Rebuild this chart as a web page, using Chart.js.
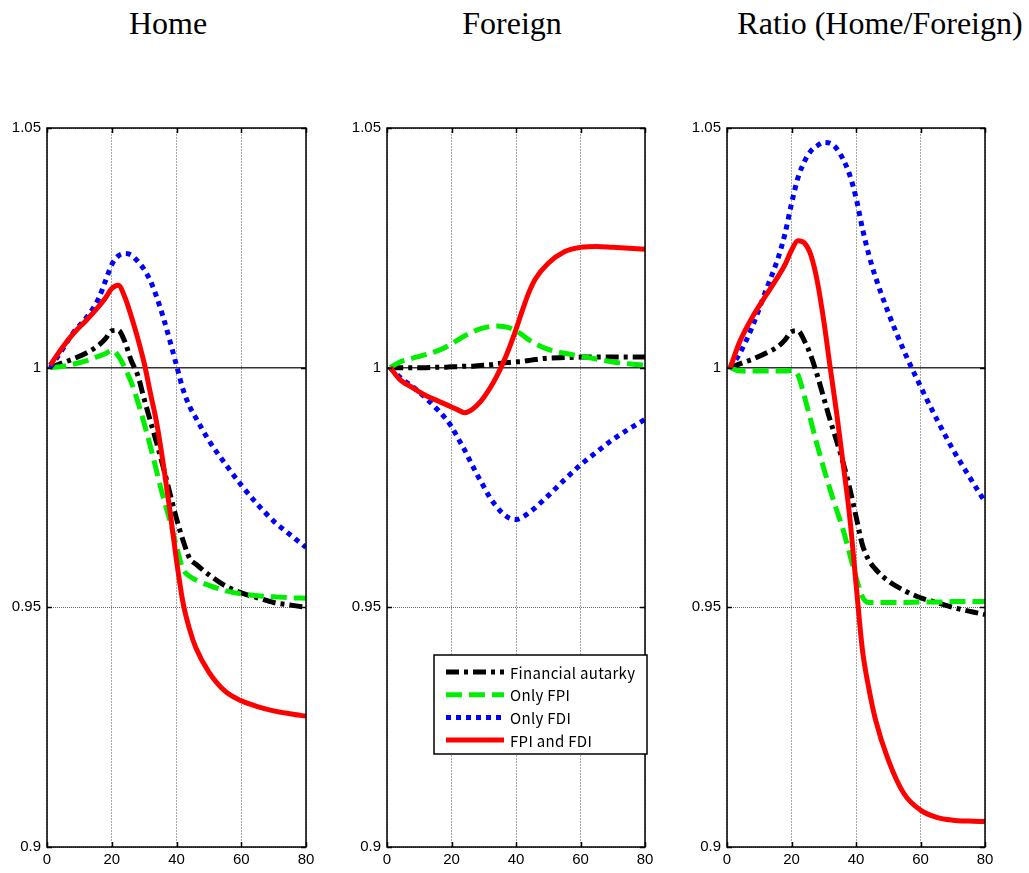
<!DOCTYPE html>
<html>
<head>
<meta charset="utf-8">
<script src="https://cdn.jsdelivr.net/npm/chart.js@4.4.1/dist/chart.umd.min.js"></script>
<style>
  body { margin: 0; background: #fff; width: 1029px; height: 873px; position: relative; overflow: hidden; }
  .title { position: absolute; top: 5px; font-family: "Liberation Serif", "Times New Roman", serif; font-size: 32px; transform: translateX(-50%); white-space: nowrap; color: #000; }
  canvas { position: absolute; }
</style>
</head>
<body>
<div class="title" style="left:168px">Home</div>
<div class="title" style="left:512px">Foreign</div>
<div class="title" style="left:880px">Ratio (Home/Foreign)</div>

<canvas id="home" width="320" height="763" style="left:0;top:110px"></canvas>
<canvas id="foreign" width="330" height="763" style="left:330px;top:110px"></canvas>
<canvas id="ratio" width="340" height="763" style="left:670px;top:110px"></canvas>

<script>
// periods on the x axis (same for every series)
const periods = [1, 4, 8, 12, 16, 18, 20, 22, 24, 26, 28, 30, 32, 34, 36, 38, 40, 42, 44, 46, 50, 55, 60, 65, 70, 75, 80];

const xTicks = [0, 20, 40, 60, 80];
const yTicks = [0.9, 0.95, 1, 1.05];

const seriesNames = ["Financial autarky", "Only FPI", "Only FDI", "FPI and FDI"];

// Home
const homeAutarky = [1.0, 1.0008, 1.0018, 1.003, 1.0047, 1.006, 1.0077, 1.0078, 1.0055, 1.0015, 0.9985, 0.9935, 0.9887, 0.984, 0.979, 0.9737, 0.9685, 0.964, 0.9603, 0.959, 0.9568, 0.9545, 0.953, 0.952, 0.951, 0.9505, 0.95];
const homeFPI     = [1.0, 1.0002, 1.0007, 1.0014, 1.0024, 1.0029, 1.0036, 1.0025, 1.0, 0.997, 0.993, 0.9884, 0.9834, 0.978, 0.9727, 0.968, 0.9627, 0.958, 0.9565, 0.9557, 0.9546, 0.9535, 0.9528, 0.9524, 0.9522, 0.952, 0.9519];
const homeFDI     = [1.0, 1.003, 1.0072, 1.0103, 1.0145, 1.018, 1.0215, 1.0233, 1.0238, 1.0235, 1.0222, 1.0205, 1.018, 1.0145, 1.0103, 1.0055, 1.0005, 0.9955, 0.992, 0.9895, 0.9848, 0.98, 0.9755, 0.9715, 0.968, 0.9652, 0.9625];
const homeBoth    = [1.0005, 1.0035, 1.007, 1.0098, 1.0128, 1.0145, 1.0165, 1.0172, 1.0148, 1.0108, 1.0062, 1.001, 0.9945, 0.988, 0.9795, 0.97, 0.9598, 0.951, 0.9455, 0.9415, 0.9365, 0.9325, 0.9305, 0.9293, 0.9284, 0.9278, 0.9273];

// Foreign
const foreignAutarky = [1.0, 1.0, 1.0, 1.0, 1.0001, 1.0001, 1.0002, 1.0002, 1.0003, 1.0003, 1.0004, 1.0005, 1.0006, 1.0008, 1.001, 1.0011, 1.0012, 1.0013, 1.0015, 1.0017, 1.002, 1.0021, 1.0022, 1.0022, 1.0022, 1.0022, 1.0022];
const foreignFPI     = [1.0, 1.0012, 1.002, 1.0027, 1.0036, 1.0042, 1.005, 1.0058, 1.0066, 1.0073, 1.0079, 1.0083, 1.0086, 1.0087, 1.0086, 1.0083, 1.0077, 1.0068, 1.0058, 1.005, 1.0038, 1.003, 1.0024, 1.0018, 1.0012, 1.0008, 1.0005];
const foreignFDI     = [1.0, 0.998, 0.996, 0.9937, 0.991, 0.9895, 0.9877, 0.9853, 0.9829, 0.9802, 0.9776, 0.9752, 0.9728, 0.971, 0.9695, 0.9686, 0.9683, 0.9688, 0.9697, 0.9708, 0.9733, 0.9766, 0.9797, 0.9824, 0.985, 0.9872, 0.9892];
const foreignBoth    = [1.0, 0.9975, 0.9958, 0.9942, 0.993, 0.9924, 0.9918, 0.9912, 0.9906, 0.9911, 0.9922, 0.9938, 0.9958, 0.9982, 1.001, 1.0043, 1.008, 1.012, 1.0157, 1.0185, 1.0218, 1.0242, 1.0251, 1.0253, 1.0251, 1.0249, 1.0247];

// Ratio (Home/Foreign)
const ratioAutarky = [1.0, 1.0008, 1.0018, 1.003, 1.0045, 1.0058, 1.0075, 1.0077, 1.0056, 1.0025, 0.9984, 0.9937, 0.989, 0.9847, 0.9802, 0.975, 0.969, 0.963, 0.9598, 0.958, 0.9555, 0.9535, 0.952, 0.951, 0.95, 0.9492, 0.9485];
const ratioFPI     = [1.0, 0.9993, 0.9993, 0.9993, 0.9993, 0.9993, 0.9994, 0.9985, 0.994, 0.9889, 0.9838, 0.979, 0.9745, 0.9703, 0.9662, 0.9612, 0.9563, 0.9522, 0.951, 0.951, 0.951, 0.951, 0.9511, 0.9511, 0.9512, 0.9512, 0.9512];
const ratioFDI     = [1.0, 1.003, 1.0088, 1.016, 1.0232, 1.028, 1.0342, 1.0396, 1.043, 1.0452, 1.0463, 1.047, 1.0468, 1.0457, 1.0435, 1.0403, 1.0355, 1.029, 1.0235, 1.019, 1.0115, 1.0033, 0.9961, 0.9893, 0.983, 0.9774, 0.972];
const ratioBoth    = [1.0, 1.0055, 1.0107, 1.015, 1.0192, 1.0215, 1.0245, 1.0265, 1.026, 1.0235, 1.018, 1.0098, 1.0, 0.9905, 0.98, 0.9692, 0.955, 0.9411, 0.933, 0.9267, 0.9182, 0.911, 0.9077, 0.9062, 0.9056, 0.9054, 0.9053];

// line look for each series (black dash-dot, green dash, blue dots, red solid)
const lineStyles = [
  { color: "#000000", dash: [13, 5, 4, 5], order: 4 },
  { color: "#00ee00", dash: [16, 7], order: 3 },
  { color: "#0000ff", dash: [5, 5], order: 2 },
  { color: "#ff0000", dash: [], order: 1 }
];

const tickFont = { family: '"Liberation Sans", Arial, sans-serif', size: 15 };

function makeDatasets(allValues) {
  return allValues.map((vals, i) => ({
    label: seriesNames[i],
    data: periods.map((p, k) => ({ x: p, y: vals[k] })),
    borderColor: lineStyles[i].color,
    borderDash: lineStyles[i].dash,
    borderWidth: 5,
    borderCapStyle: "butt",
    pointRadius: 0,
    fill: false,
    cubicInterpolationMode: "monotone",
    order: lineStyles[i].order
  }));
}

// black frame with small inward ticks on all sides (matlab look)
const framePlugin = {
  id: "frame",
  afterDraw(chart) {
    const { ctx, chartArea: a, scales } = chart;
    const x = scales.x, y = scales.y;
    ctx.save();
    ctx.strokeStyle = "#000";
    ctx.lineWidth = 1.5;
    ctx.strokeRect(a.left, a.top, a.right - a.left, a.bottom - a.top);
    ctx.beginPath();
    x.ticks.forEach(t => {
      const px = Math.round(x.getPixelForValue(t.value)) + 0.5;
      ctx.moveTo(px, a.bottom); ctx.lineTo(px, a.bottom - 5);
      ctx.moveTo(px, a.top); ctx.lineTo(px, a.top + 5);
    });
    y.ticks.forEach(t => {
      const py = Math.round(y.getPixelForValue(t.value)) + 0.5;
      ctx.moveTo(a.left, py); ctx.lineTo(a.left + 5, py);
      ctx.moveTo(a.right, py); ctx.lineTo(a.right - 5, py);
    });
    ctx.stroke();
    ctx.restore();
  }
};

// boxed legend drawn inside the plot area (only on the middle panel)
const boxLegend = {
  id: "boxLegend",
  afterDraw(chart, args, opts) {
    if (!opts.show) return;
    const { ctx, chartArea: a } = chart;
    const left = a.left + 47, top = a.top + 527;
    const w = a.right + 2 - left, h = 99;
    ctx.save();
    ctx.fillStyle = "#fff";
    ctx.fillRect(left, top, w, h);
    ctx.strokeStyle = "#000";
    ctx.lineWidth = 1.5;
    ctx.strokeRect(left, top, w, h);
    ctx.font = '15px "Noto Sans CJK JP", "DejaVu Sans", sans-serif';
    ctx.letterSpacing = "0.3px";
    ctx.textBaseline = "middle";
    chart.data.datasets.forEach((ds, i) => {
      const cy = top + 17 + i * 22.7;
      ctx.beginPath();
      ctx.setLineDash(ds.borderDash);
      ctx.strokeStyle = ds.borderColor;
      ctx.lineWidth = 5;
      ctx.moveTo(left + 12, cy);
      ctx.lineTo(left + 70, cy);
      ctx.stroke();
      ctx.setLineDash([]);
      ctx.fillStyle = "#000";
      ctx.fillText(ds.label, left + 76, cy + 1);
    });
    ctx.restore();
  }
};

function makePanel(id, allValues, yAxisWidth, padRight, showLegend) {
  new Chart(document.getElementById(id), {
    type: "line",
    data: { datasets: makeDatasets(allValues) },
    options: {
      responsive: false,
      animation: false,
      devicePixelRatio: 1,
      layout: { padding: { top: 18, right: padRight, left: 0, bottom: 0 } },
      plugins: {
        legend: { display: false },
        tooltip: { enabled: false },
        boxLegend: { show: showLegend }
      },
      scales: {
        x: {
          type: "linear",
          min: 0,
          max: 80,
          afterBuildTicks: s => { s.ticks = xTicks.map(v => ({ value: v })); },
          afterFit: s => { s.height = 26; },
          ticks: { color: "#000", padding: 4, font: tickFont },
          grid: { color: "#a8a8a8", lineWidth: 1, drawTicks: false },
          border: { display: false, dash: [2, 1] }
        },
        y: {
          min: 0.9,
          max: 1.05,
          afterBuildTicks: s => { s.ticks = yTicks.map(v => ({ value: v })); },
          afterFit: s => { s.width = yAxisWidth; },
          ticks: {
            color: "#000",
            padding: 6,
            font: tickFont,
            callback: v => String(v)
          },
          grid: {
            drawTicks: false,
            color: c => (c.tick && c.tick.value === 1 ? "#333" : "#666"),
            lineWidth: c => (c.tick && c.tick.value === 1 ? 1.5 : 1)
          },
          border: { display: false, dash: c => (c.tick && c.tick.value === 1 ? [] : [1, 1]) }
        }
      }
    },
    plugins: [framePlugin, boxLegend]
  });
}

makePanel("home", [homeAutarky, homeFPI, homeFDI, homeBoth], 47, 14, false);
makePanel("foreign", [foreignAutarky, foreignFPI, foreignFDI, foreignBoth], 57, 15, true);
makePanel("ratio", [ratioAutarky, ratioFPI, ratioFDI, ratioBoth], 57, 25, false);
</script>
</body>
</html>
